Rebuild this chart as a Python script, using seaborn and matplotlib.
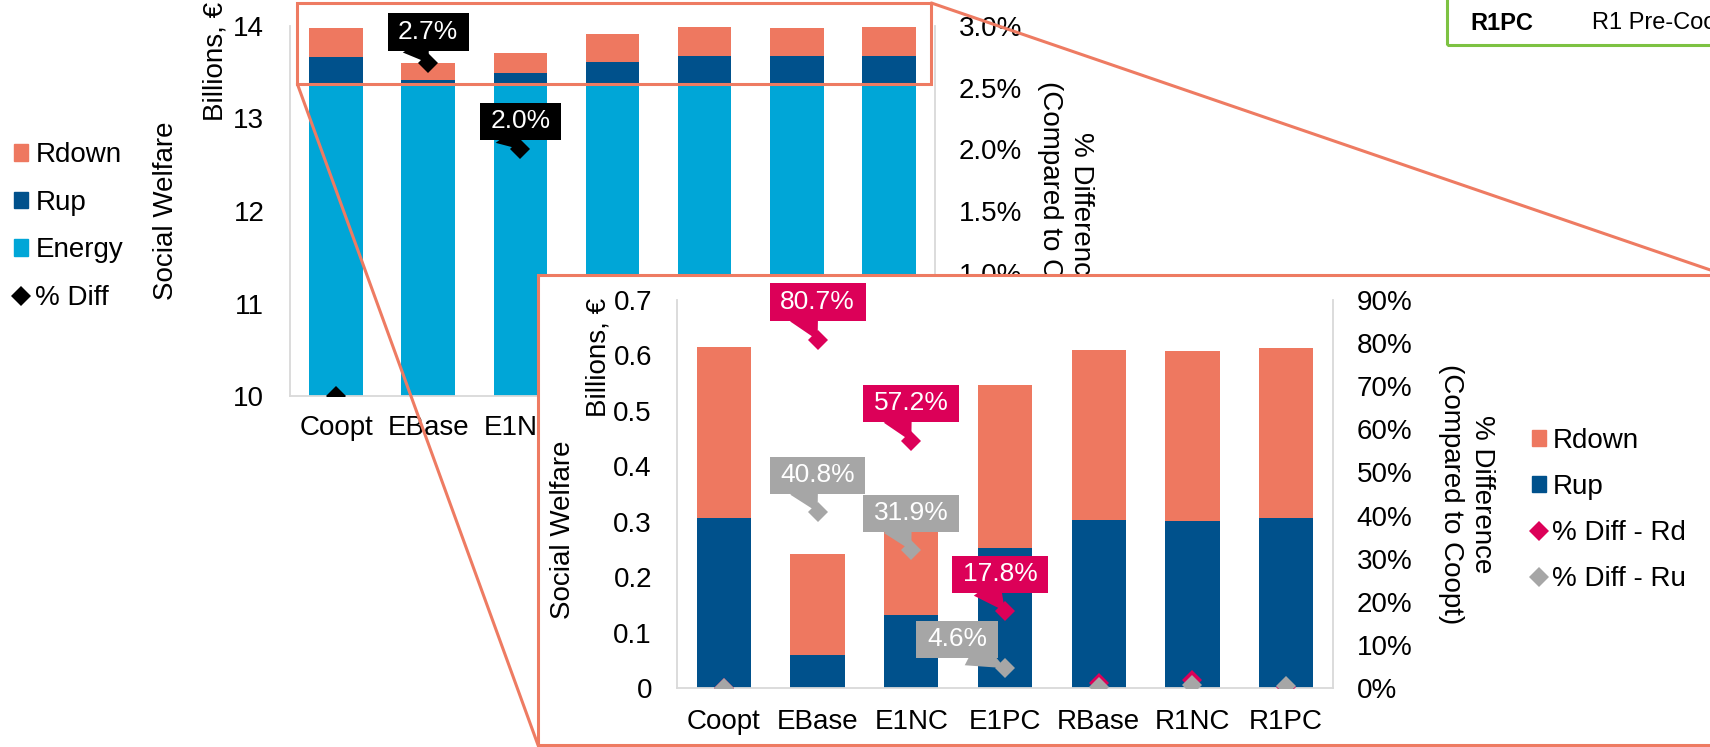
import numpy as np
import pandas as pd
import matplotlib
matplotlib.use("Agg")
import matplotlib.pyplot as plt
import matplotlib.ticker as mticker
from matplotlib.patches import Rectangle, ConnectionPatch, Patch
from matplotlib.lines import Line2D
from matplotlib.path import Path
import seaborn as sns

# ---------------- data ----------------
scenarios = ["Coopt", "EBase", "E1NC", "E1PC", "RBase", "R1NC", "R1PC"]
energy = [13.361, 13.357, 13.364, 13.362, 13.376, 13.375, 13.373]   # billions EUR
rup = [0.307, 0.059, 0.131, 0.252, 0.303, 0.301, 0.306]
rdown = [0.309, 0.183, 0.210, 0.295, 0.307, 0.307, 0.308]
diff_total = [0.0, 2.7, 2.0, 0.5, 0.0, 0.0, 0.0]        # % vs Coopt
diff_rd = [0.0, 80.7, 57.2, 17.8, 1.2, 1.9, 0.3]
diff_ru = [0.0, 40.8, 31.9, 4.6, 0.3, 0.7, 0.5]
ticks_sw = [10, 11, 12, 13, 14]
ticks_pct = [0.0, 0.5, 1.0, 1.5, 2.0, 2.5, 3.0]
ticks_res = [0.0, 0.1, 0.2, 0.3, 0.4, 0.5, 0.6, 0.7]
ticks_res_pct = [0, 10, 20, 30, 40, 50, 60, 70, 80, 90]
labelled_top = ["EBase", "E1NC"]
labelled_zoom = ["EBase", "E1NC", "E1PC"]

# ---------------- style ----------------
C_ENERGY = "#00A6D7"
C_RUP = "#00518C"
C_RDOWN = "#EE7860"
C_RD = "#DC0058"
C_RU = "#A6A6A6"
C_SPINE = "#D9D9D9"
C_FRAME = "#EE7B62"
C_GREEN = "#7DC242"

sns.set_theme(style="white")
plt.rcParams["font.family"] = ["Liberation Sans", "DejaVu Sans"]
plt.rcParams["text.color"] = "black"
plt.rcParams["xtick.color"] = "black"
plt.rcParams["ytick.color"] = "black"

df = pd.DataFrame({"scenario": scenarios, "energy": energy, "rup": rup, "rdown": rdown})
df["energy_rup"] = df["energy"] + df["rup"]
df["total"] = df["energy_rup"] + df["rdown"]
df["reserve"] = df["rup"] + df["rdown"]

W, H = 1710, 747
fig = plt.figure(figsize=(W / 100, H / 100), dpi=100)


def px_axes(left, top, right, bottom):
    return fig.add_axes([left / W, 1 - bottom / H, (right - left) / W, (bottom - top) / H])


def style_axes(a, a2):
    for s in ("left", "right", "bottom"):
        for obj in (a, a2):
            obj.spines[s].set_color(C_SPINE)
            obj.spines[s].set_linewidth(1.3)
    a.spines["top"].set_visible(False)
    a2.spines["top"].set_visible(False)
    a.spines["right"].set_visible(False)
    a2.spines["left"].set_visible(False)
    a2.spines["bottom"].set_visible(False)


def label_box(x0, y0, width, height, mutation_size):
    # rectangular label background, wider padding left/right than top/bottom
    px, py = 0.40 * mutation_size, 0.25 * mutation_size
    xa, ya = x0 - px, y0 - py
    xb, yb = x0 + width + px, y0 + height + py
    return Path([(xa, ya), (xb, ya), (xb, yb), (xa, yb), (xa, ya)], closed=True)


def callout(a, text, xy, offset, face, relx):
    a.annotate(text, xy=xy, xytext=offset, textcoords="offset pixels",
               ha="center", va="center", fontsize=19, color="white", zorder=6,
               bbox=dict(boxstyle=label_box, fc=face, ec="none"),
               arrowprops=dict(arrowstyle="wedge,tail_width=1.2,shrink_factor=0.5",
                               fc=face, ec="none", relpos=(relx, 0.0),
                               patchA=None, shrinkA=0, shrinkB=0))


bar_kw = dict(x="scenario", width=0.58, saturation=1, linewidth=0, errorbar=None)
pt_kw = dict(marker="D", linestyle="none", markersize=10, markeredgewidth=0, errorbar=None)

# ---------------- full social welfare chart ----------------
ax = px_axes(290, 26, 935, 396)
ax.set_zorder(1)
sns.barplot(data=df, y="total", color=C_RDOWN, ax=ax, **bar_kw)
sns.barplot(data=df, y="energy_rup", color=C_RUP, ax=ax, **bar_kw)
sns.barplot(data=df, y="energy", color=C_ENERGY, ax=ax, **bar_kw)
ax.set_ylim(ticks_sw[0], ticks_sw[-1])
ax.set_yticks(ticks_sw)
ax.set_xlabel("")
ax.set_ylabel("")
ax.tick_params(axis="y", length=0, pad=18.5, labelsize=20)
ax.tick_params(axis="x", length=0, pad=14, labelsize=20)

ax2 = ax.twinx()
ax2.set_zorder(2)
sns.pointplot(x=scenarios, y=diff_total, color="black", ax=ax2, **pt_kw)
ax2.set_ylim(ticks_pct[0], ticks_pct[-1])
ax2.set_yticks(ticks_pct)
ax2.yaxis.set_major_formatter(mticker.FuncFormatter(lambda v, p: f"{v:.1f}%"))
ax2.tick_params(axis="y", length=0, pad=17, labelsize=20)
ax2.set_xlabel("")
style_axes(ax, ax2)

ax.text(-0.193, 0.5, "Social Welfare", rotation=90, transform=ax.transAxes,
        ha="center", va="center", fontsize=20)
ax.text(-0.115, 0.903, "Billions, €", rotation=90, transform=ax.transAxes,
        ha="center", va="center", fontsize=20)
ax2.text(1.203, 0.5, "% Difference\n(Compared to Coopt)", rotation=270,
         transform=ax2.transAxes, ha="center", va="center", fontsize=20,
         linespacing=1.25, multialignment="center")

top_offsets = {"EBase": (0, 31), "E1NC": (0, 28)}
for name in labelled_top:
    i = scenarios.index(name)
    callout(ax2, f"{diff_total[i]:.1f}%", (i, diff_total[i]), top_offsets[name], "black", 0.3)

top_handles = [Patch(color=C_RDOWN), Patch(color=C_RUP), Patch(color=C_ENERGY),
               Line2D([], [], marker="D", color="black", linestyle="none",
                      markersize=10, markeredgewidth=0)]
ax.legend(top_handles, ["Rdown", "Rup", "Energy", "% Diff"], loc="center left",
          bbox_to_anchor=(-0.428, 0.458), frameon=False, fontsize=20,
          handlelength=0.52, handleheight=0.54, handletextpad=0.25,
          labelspacing=0.77, borderpad=0, borderaxespad=0)

# zoom frame around the reserve part of the bars
x0, x1, y0, y1 = -0.42, 6.46, 13.373, 14.249
ax.add_patch(Rectangle((x0, y0), x1 - x0, y1 - y0, fill=False, ec=C_FRAME,
                       lw=2.2, clip_on=False, zorder=5))

# ---------------- zoom panel ----------------
panel = px_axes(538, 275, 1725, 745)
panel.set_zorder(3)
panel.set_facecolor("white")
panel.set_xticks([])
panel.set_yticks([])
for s in panel.spines.values():
    s.set_color(C_FRAME)
    s.set_linewidth(2.2)

# category labels of the full chart that sit entirely under the zoom panel
for lbl in ax.get_xticklabels()[3:]:
    lbl.set_visible(False)

for xyA, xyB in (((x0, y0), (0, 0)), ((x1, y1), (1, 1))):
    con = ConnectionPatch(xyA=xyA, coordsA=ax.transData, xyB=xyB, coordsB=panel.transAxes,
                          color=C_FRAME, lw=2.2, zorder=2.5)
    fig.add_artist(con)

axz = px_axes(677, 300, 1333, 688)
axz.set_zorder(4)
sns.barplot(data=df, y="reserve", color=C_RDOWN, ax=axz, **bar_kw)
sns.barplot(data=df, y="rup", color=C_RUP, ax=axz, **bar_kw)
axz.set_ylim(ticks_res[0], ticks_res[-1])
axz.set_yticks(ticks_res)
axz.yaxis.set_major_formatter(mticker.FuncFormatter(lambda v, p: "0" if v == 0 else f"{v:.1f}"))
axz.set_xlabel("")
axz.set_ylabel("")
axz.tick_params(axis="y", length=0, pad=18, labelsize=20)
axz.tick_params(axis="x", length=0, pad=15, labelsize=20)

axz2 = axz.twinx()
axz2.set_zorder(5)
sns.pointplot(x=scenarios, y=diff_rd, color=C_RD, ax=axz2, **pt_kw)
sns.pointplot(x=scenarios, y=diff_ru, color=C_RU, ax=axz2, **pt_kw)
axz2.set_ylim(ticks_res_pct[0], ticks_res_pct[-1])
axz2.set_yticks(ticks_res_pct)
axz2.yaxis.set_major_formatter(mticker.FuncFormatter(lambda v, p: f"{v:.0f}%"))
axz2.tick_params(axis="y", length=0, pad=17, labelsize=20)
axz2.set_xlabel("")
style_axes(axz, axz2)

axz.text(-0.174, 0.407, "Social Welfare", rotation=90, transform=axz.transAxes,
         ha="center", va="center", fontsize=20)
axz.text(-0.119, 0.851, "Billions, €", rotation=90, transform=axz.transAxes,
         ha="center", va="center", fontsize=20)
axz2.text(1.203, 0.5, "% Difference\n(Compared to Coopt)", rotation=270,
          transform=axz2.transAxes, ha="center", va="center", fontsize=20,
          linespacing=1.25, multialignment="center")

rd_offsets = {"EBase": (0, 38), "E1NC": (0, 38), "E1PC": (-5, 37)}
ru_offsets = {"EBase": (0, 37), "E1NC": (0, 37), "E1PC": (-48, 29)}
ru_relpos = {"EBase": 0.32, "E1NC": 0.32, "E1PC": 0.75}
for name in labelled_zoom:
    i = scenarios.index(name)
    callout(axz2, f"{diff_rd[i]:.1f}%", (i, diff_rd[i]), rd_offsets[name], C_RD, 0.32)
for name in labelled_zoom:
    i = scenarios.index(name)
    callout(axz2, f"{diff_ru[i]:.1f}%", (i, diff_ru[i]), ru_offsets[name], C_RU, ru_relpos[name])

zoom_handles = [Patch(color=C_RDOWN), Patch(color=C_RUP),
                Line2D([], [], marker="D", color=C_RD, linestyle="none",
                       markersize=10, markeredgewidth=0),
                Line2D([], [], marker="D", color=C_RU, linestyle="none",
                       markersize=10, markeredgewidth=0)]
axz2.legend(zoom_handles, ["Rdown", "Rup", "% Diff - Rd", "% Diff - Ru"], loc="center left",
            bbox_to_anchor=(1.303, 0.459), frameon=False, fontsize=20,
            handlelength=0.52, handleheight=0.54, handletextpad=0.22,
            labelspacing=0.72, borderpad=0, borderaxespad=0)

# ---------------- scenario key (top right) ----------------
fig.add_artist(Rectangle((1447 / W, 1 - 45 / H), 400 / W, 100 / H, transform=fig.transFigure,
                         fill=False, ec=C_GREEN, lw=2.2, zorder=6))
fig.text(1470 / W, 1 - 23 / H, "R1PC", fontsize=17, fontweight="bold", ha="left", va="center")
fig.text(1592 / W, 1 - 23 / H, "R1 Pre-Coordination", fontsize=17, ha="left", va="center")

fig.savefig("out.png", dpi=100)
